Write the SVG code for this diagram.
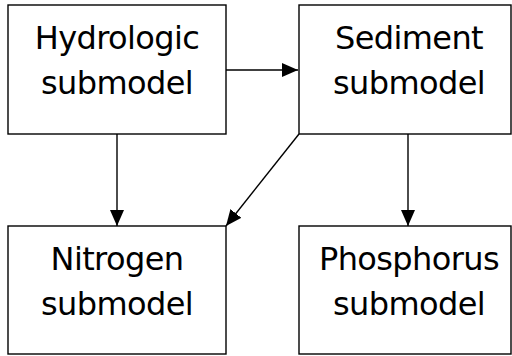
<svg xmlns="http://www.w3.org/2000/svg" width="512" height="356" viewBox="0 0 512 356">
<style>
.box{fill:#fff;stroke:#000;stroke-width:1.4}
.t{font-family:"DejaVu Sans",Tahoma,sans-serif;font-size:32px;letter-spacing:-0.6px;text-anchor:middle;fill:#000}
.c{stroke:#000;stroke-width:1.4;fill:none}
</style>
<defs>
<marker id="a" viewBox="0 0 16 14" refX="16" refY="7" markerWidth="16" markerHeight="14" markerUnits="userSpaceOnUse" orient="auto">
<path d="M0,0 L16,7 L0,14 Z" fill="#000"/>
</marker>
</defs>
<rect width="512" height="356" fill="#fff"/>
<g id="connectors">
<line class="c" x1="226" y1="70" x2="298" y2="70" marker-end="url(#a)"/>
<line class="c" x1="117" y1="134" x2="117" y2="226" marker-end="url(#a)"/>
<line class="c" x1="408" y1="134" x2="408" y2="226" marker-end="url(#a)"/>
<line class="c" x1="299" y1="134" x2="226" y2="226" marker-end="url(#a)"/>
</g>
<g id="hydrologic">
<rect class="box" x="8" y="5" width="218" height="129"/>
<text class="t" x="117" y="49">Hydrologic</text>
<text class="t" x="117" y="94">submodel</text>
</g>
<g id="sediment">
<rect class="box" x="299" y="5" width="212" height="129"/>
<text class="t" x="409" y="49">Sediment</text>
<text class="t" x="409" y="94">submodel</text>
</g>
<g id="nitrogen">
<rect class="box" x="8" y="226" width="218" height="128"/>
<text class="t" x="117" y="270">Nitrogen</text>
<text class="t" x="117" y="315">submodel</text>
</g>
<g id="phosphorus">
<rect class="box" x="299" y="226" width="212" height="128"/>
<text class="t" x="409" y="270">Phosphorus</text>
<text class="t" x="409" y="315">submodel</text>
</g>
</svg>
